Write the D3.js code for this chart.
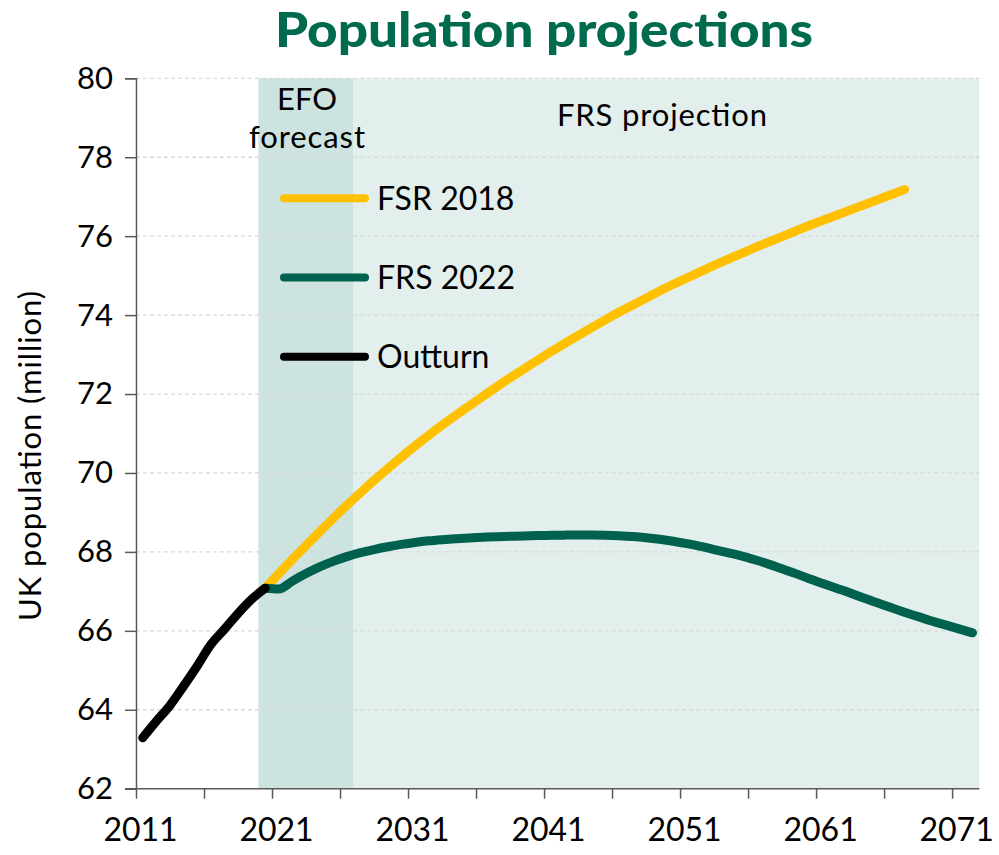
<!DOCTYPE html>
<html>
<head>
<meta charset="utf-8">
<script src="https://cdn.jsdelivr.net/npm/d3@7"></script>
<style>
  body { margin: 0; background: #fff; }
  svg { display: block; font-family: Lato, "Noto Sans", sans-serif; }
</style>
</head>
<body>
<div id="chart_div"></div>
<script>
// Years are fiscal-year categories; each value sits in the middle of its year slot
var outturnYears = d3.range(2011, 2021);
var outturn = [63.29, 63.71, 64.11, 64.60, 65.11, 65.65, 66.04, 66.44, 66.80, 67.08];

var fsr2018Years = d3.range(2020, 2068);
var fsr2018 = [67.08, 67.45, 67.81, 68.16, 68.51, 68.85, 69.18, 69.50, 69.81, 70.11,
               70.40, 70.68, 70.95, 71.21, 71.46, 71.70, 71.94, 72.18, 72.41, 72.63,
               72.85, 73.07, 73.28, 73.48, 73.68, 73.88, 74.07, 74.25, 74.43, 74.61,
               74.78, 74.94, 75.10, 75.26, 75.41, 75.56, 75.71, 75.85, 75.99, 76.13,
               76.27, 76.40, 76.53, 76.66, 76.79, 76.92, 77.05, 77.18];

var frs2022Years = d3.range(2020, 2073);
var frs2022 = [67.08, 67.06, 67.26, 67.45, 67.62, 67.76, 67.88, 67.98, 68.06, 68.13,
               68.19, 68.24, 68.28, 68.31, 68.335, 68.355, 68.37, 68.385, 68.395, 68.405,
               68.413, 68.42, 68.425, 68.428, 68.428, 68.423, 68.41, 68.39, 68.36, 68.32,
               68.27, 68.21, 68.14, 68.06, 67.98, 67.90, 67.80, 67.69, 67.57, 67.45,
               67.32, 67.20, 67.08, 66.96, 66.83, 66.71, 66.59, 66.47, 66.36, 66.25,
               66.15, 66.05, 65.95];

var yTicks = d3.range(62, 81, 2);
var xTickYears = d3.range(2011, 2073, 5);
var xLabelYears = [2011, 2021, 2031, 2041, 2051, 2061, 2071];

// shaded periods: [first year, year after last]
var efoPeriod = [2020, 2027];
var frsPeriod = [2027, 2073];

var series = [
  { name: "FSR 2018", years: fsr2018Years, values: fsr2018, color: "#ffc000" },
  { name: "FRS 2022", years: frs2022Years, values: frs2022, color: "#00614f" },
  { name: "Outturn", years: outturnYears, values: outturn, color: "#000000" }
];

var width = 999, height = 855;
var marginLeft = 136, marginRight = 19.7, marginTop = 78.3, marginBottom = 66.3;

var x = d3.scaleLinear()
  .domain([2011, 2073])
  .range([marginLeft, width - marginRight]);

var y = d3.scaleLinear()
  .domain([62, 80])
  .range([height - marginBottom, marginTop]);

var svg = d3.select("#chart_div")
  .append("svg")
  .attr("width", width)
  .attr("height", height)
  .attr("viewBox", [0, 0, width, height]);

// Title
svg.append("text")
  .attr("x", 544)
  .attr("y", 47)
  .attr("text-anchor", "middle")
  .attr("fill", "#006a4e")
  .style("font-size", "48px")
  .style("font-weight", "900")
  .attr("textLength", 538)
  .attr("lengthAdjust", "spacingAndGlyphs")
  .text("Population projections");

// Shaded areas
svg.append("rect")
  .attr("x", x(efoPeriod[0]))
  .attr("y", y(80))
  .attr("width", x(efoPeriod[1]) - x(efoPeriod[0]))
  .attr("height", y(62) - y(80))
  .attr("fill", "#cde3df");

svg.append("rect")
  .attr("x", x(frsPeriod[0]))
  .attr("y", y(80))
  .attr("width", x(frsPeriod[1]) - x(frsPeriod[0]))
  .attr("height", y(62) - y(80))
  .attr("fill", "#e3efec");

// Gridlines
svg.append("g")
  .selectAll("line")
  .data(yTicks.filter(d => d > 62))
  .join("line")
    .attr("x1", x(2011))
    .attr("x2", x(2073))
    .attr("y1", d => y(d))
    .attr("y2", d => y(d))
    .attr("stroke", "#d9d9d9")
    .attr("stroke-width", 1.3)
    .attr("stroke-dasharray", "4,3");

// Shade labels
var efoMid = (x(efoPeriod[0]) + x(efoPeriod[1])) / 2 + 1;
svg.append("text")
  .attr("x", efoMid)
  .attr("y", 110)
  .attr("text-anchor", "middle")
  .style("font-size", "31px")
  .text("EFO");
svg.append("text")
  .attr("x", efoMid)
  .attr("y", 148)
  .attr("text-anchor", "middle")
  .style("font-size", "31px")
  .attr("textLength", 116)
  .text("forecast");
svg.append("text")
  .attr("x", 662)
  .attr("y", 126)
  .attr("text-anchor", "middle")
  .style("font-size", "31px")
  .attr("textLength", 210)
  .text("FRS projection");

// Y axis
svg.append("g")
  .attr("transform", `translate(${marginLeft},0)`)
  .call(d3.axisLeft(y).tickValues(yTicks).tickSize(11).tickPadding(12))
  .call(g => g.selectAll(".domain").attr("stroke", "#595959").attr("stroke-width", 1.5))
  .call(g => g.selectAll(".tick line").attr("stroke", "#595959").attr("stroke-width", 1.5))
  .call(g => g.selectAll(".tick text")
    .attr("fill", "#000")
    .style("font-size", "31px")
    .style("font-family", "Lato, sans-serif"));

// X axis
svg.append("g")
  .attr("transform", `translate(0,${height - marginBottom})`)
  .call(d3.axisBottom(x)
    .tickValues(xTickYears)
    .tickSize(10)
    .tickSizeOuter(0)
    .tickPadding(20)
    .tickFormat(d => xLabelYears.includes(d) ? d : ""))
  .call(g => g.select(".domain").attr("stroke", "#595959").attr("stroke-width", 1.5)
    .attr("d", `M${marginLeft - 11},0H${width - marginRight}`))
  .call(g => g.selectAll(".tick line").attr("stroke", "#595959").attr("stroke-width", 1.5))
  .call(g => g.selectAll(".tick text")
    .attr("fill", "#000")
    .attr("dx", 4)
    .style("font-size", "32px")
    .style("font-family", "Lato, sans-serif"));

// Y axis title
svg.append("text")
  .attr("transform", "translate(41,456) rotate(-90)")
  .attr("text-anchor", "middle")
  .style("font-size", "31px")
  .attr("textLength", 330)
  .text("UK population (million)");

// Lines
var line = d3.line()
  .x(d => x(d[0] + 0.5))
  .y(d => y(d[1]))
  .curve(d3.curveMonotoneX);

svg.append("g")
  .attr("fill", "none")
  .attr("stroke-width", 9)
  .attr("stroke-linejoin", "round")
  .attr("stroke-linecap", "round")
  .selectAll("path")
  .data(series)
  .join("path")
    .attr("stroke", d => d.color)
    .attr("d", d => line(d.years.map((yr, i) => [yr, d.values[i]])));

// Legend
var legend = svg.append("g")
  .selectAll("g")
  .data(series)
  .join("g")
    .attr("transform", (d, i) => `translate(284,${198.3 + i * 79.2})`);

legend.append("line")
  .attr("x1", 0)
  .attr("x2", 81)
  .attr("stroke", d => d.color)
  .attr("stroke-width", 8)
  .attr("stroke-linecap", "round");

legend.append("text")
  .attr("x", 93)
  .attr("dy", "0.36em")
  .style("font-size", "32px")
  .text(d => d.name);
</script>
</body>
</html>
